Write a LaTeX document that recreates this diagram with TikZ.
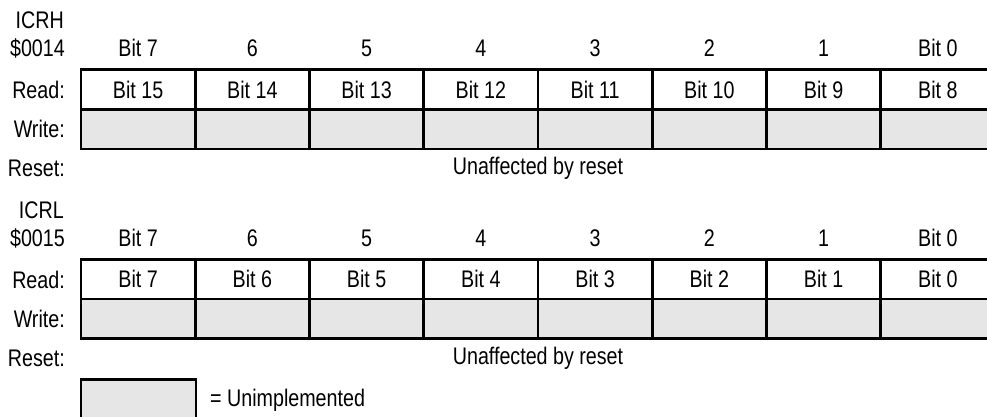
\documentclass[tikz,border=0pt]{standalone}
\usepackage{fontspec}
\setmainfont{Liberation Sans}[FakeStretch=0.82]
\begin{document}
\begin{tikzpicture}[x=1pt,y=-1pt,
  every node/.style={font=\fontsize{24}{27}\selectfont, inner sep=0pt},
  lbl/.style={anchor=east},
  cell/.style={draw=black, line width=2.6pt, minimum width=114.25pt, minimum height=39.6pt, fill=white},
  wcell/.style={cell, fill=unimp},
  hdr/.style={}
]
\definecolor{unimp}{HTML}{E6E6E6}
\useasboundingbox (0,0) rectangle (987,417);
\clip (0,0) rectangle (987,417);
% ---------- ICRH ----------
\node[lbl] (nameH) at (64,20) {ICRH};
\node[lbl] (addrH) at (65,48) {\$0014};
\node[lbl] (readH) at (65,90) {Read:};
\node[lbl] (writeH) at (65,129) {Write:};
\node[lbl] (resetH) at (65,168) {Reset:};
\foreach \i/\h/\r in {0/Bit 7/Bit 15,1/6/Bit 14,2/5/Bit 13,3/4/Bit 12,4/3/Bit 11,5/2/Bit 10,6/1/Bit 9,7/Bit 0/Bit 8}{
  \node[hdr] (hH\i) at ({138.1+114.25*\i},48) {\h};
  \node[cell] (rH\i) at ({138.1+114.25*\i},89.5) {\r};
  \node[wcell] (wH\i) at ({138.1+114.25*\i},129.1) {};
}
\node (unaffH) at (538,168) {Unaffected by reset};
% ---------- ICRL ----------
\node[lbl] (nameL) at (64,210) {ICRL};
\node[lbl] (addrL) at (65,238) {\$0015};
\node[lbl] (readL) at (65,280) {Read:};
\node[lbl] (writeL) at (65,319) {Write:};
\node[lbl] (resetL) at (65,358) {Reset:};
\foreach \i/\h/\r in {0/Bit 7/Bit 7,1/6/Bit 6,2/5/Bit 5,3/4/Bit 4,4/3/Bit 3,5/2/Bit 2,6/1/Bit 1,7/Bit 0/Bit 0}{
  \node[hdr] (hL\i) at ({138.1+114.25*\i},238) {\h};
  \node[cell] (rL\i) at ({138.1+114.25*\i},279.2) {\r};
  \node[wcell] (wL\i) at ({138.1+114.25*\i},318.8) {};
}
\node (unaffL) at (538,358) {Unaffected by reset};
% ---------- legend ----------
\node[wcell, minimum width=115pt, minimum height=40pt] (legbox) at (138.5,399.5) {};
\node[anchor=west] (legtext) at (210,400) {= Unimplemented};
\end{tikzpicture}
\end{document}
